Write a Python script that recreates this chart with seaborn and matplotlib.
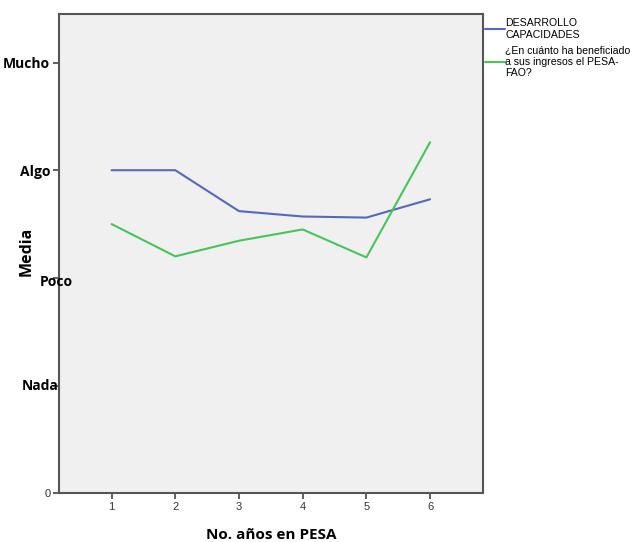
import pandas as pd
import matplotlib.pyplot as plt
import matplotlib.transforms as mtransforms
import seaborn as sns

# Datos
anios = [1, 2, 3, 4, 5, 6]
desarrollo = [3.00, 3.00, 2.62, 2.57, 2.56, 2.73]
ingresos = [2.50, 2.20, 2.345, 2.45, 2.19, 3.26]
serie_1 = "DESARROLLO\nCAPACIDADES"
serie_2 = "¿En cuánto ha beneficiado\na sus ingresos el PESA-\nFAO?"
y_ticks = [0, 1, 2, 3, 4]
y_labels = ["0", "Nada", "Poco", "Algo", "Mucho"]

df = pd.DataFrame({
    "No. años en PESA": anios * 2,
    "Media": desarrollo + ingresos,
    "Serie": [serie_1] * len(anios) + [serie_2] * len(anios),
})

sns.set_style("ticks")
plt.rcParams["font.family"] = ["Liberation Sans", "DejaVu Sans"]
plt.rcParams["text.color"] = "black"
plt.rcParams["axes.labelcolor"] = "black"

fig = plt.figure(figsize=(6.38, 5.42), dpi=100)
ax = fig.add_axes([0.092, 0.09, 0.665, 0.884])
ax.set_facecolor("#f0f0f0")

sns.lineplot(data=df, x="No. años en PESA", y="Media", hue="Serie",
             palette=["#5468c0", "#47c45a"], linewidth=1.5, ax=ax)

ax.set_xlim(0.17, 6.83)
ax.set_ylim(0, 4.45)
ax.set_xticks(anios)
ax.set_xticklabels([str(a) for a in anios], fontsize=8, color="#333333")
ax.set_yticks(y_ticks)
# Nada y Poco se dibujan aparte (en el original están corridas)
ax.set_yticklabels([l if l in ("0", "Algo", "Mucho") else "" for l in y_labels])
for lab in ax.get_yticklabels():
    if lab.get_text() == "0":
        lab.set_fontsize(8)
        lab.set_color("#333333")
    else:
        lab.set_fontsize(10)
        lab.set_fontweight("bold")
        lab.set_color("black")
        lab.set_family(["Open Sans", "DejaVu Sans"])
ax.tick_params(axis="both", direction="out", length=4, width=1.2, color="#444444", pad=2)

trans = mtransforms.blended_transform_factory(ax.transAxes, ax.transData)
ax.text(0.0, y_ticks[1], y_labels[1], transform=trans, ha="right", va="center",
        fontsize=10, fontweight="bold", color="black", family=["Open Sans", "DejaVu Sans"])
ax.text(-0.044, y_ticks[2] - 0.04, y_labels[2], transform=trans, ha="left", va="center",
        fontsize=10, fontweight="bold", color="black", family=["Open Sans", "DejaVu Sans"],
        zorder=5)

for s in ax.spines.values():
    s.set_color("#555555")
    s.set_linewidth(1.5)

ax.set_xlabel("No. años en PESA", fontsize=11, fontweight="bold", color="black",
              family=["Open Sans", "DejaVu Sans"], labelpad=12)
ax.set_ylabel("Media", fontsize=11.5, fontweight="bold", color="black",
              family=["Open Sans", "DejaVu Sans"])
ax.yaxis.set_label_coords(-0.056, 0.505)

leg = ax.legend(loc="upper left", bbox_to_anchor=(0.995, 1.0), frameon=False,
                fontsize=7.6, handlelength=1.9, handletextpad=0.0,
                borderaxespad=0, labelspacing=0.5)
for line in leg.get_lines():
    line.set_linewidth(1.5)

fig.savefig("out.png", dpi=100)
